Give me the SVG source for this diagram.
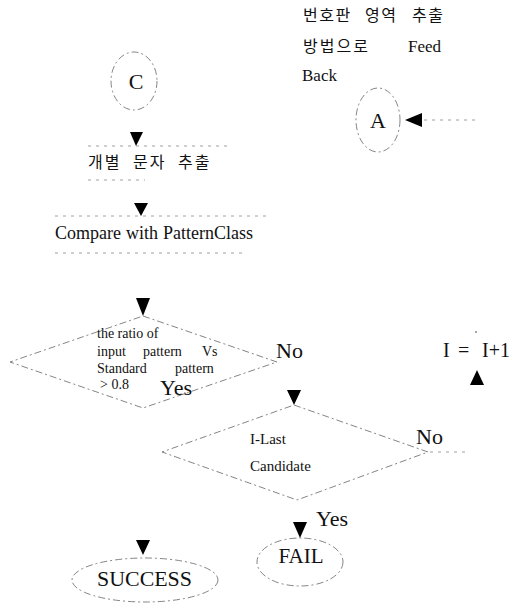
<svg xmlns="http://www.w3.org/2000/svg" width="510" height="603" viewBox="0 0 510 603">
<style>
.t{font-family:"Liberation Serif","Noto Sans CJK KR",serif;fill:#111}
.k{font-family:"Noto Sans CJK KR","Liberation Serif",sans-serif;fill:#111;font-size:16px;letter-spacing:1.5px}
.d{font-size:14px}
.sh{fill:none;stroke:#666;stroke-width:0.8;stroke-dasharray:7 3 2 3}
.dl{fill:none;stroke:#888;stroke-width:0.8;stroke-dasharray:3 5}
.ar{fill:#000}
</style>
<rect width="510" height="603" fill="#fff"/>
<g id="note">
<text class="k" y="21"><tspan x="303">번호판</tspan><tspan x="365">영역</tspan><tspan x="412">추출</tspan></text>
<text class="k" x="303" y="52" style="letter-spacing:2px">방법으로</text>
<text class="t" x="408" y="52" font-size="17">Feed</text>
<text class="t" x="302" y="81" font-size="17">Back</text>
</g>
<g id="nodeC">
<ellipse class="sh" cx="134" cy="81" rx="23" ry="29"/>
<text class="t" x="136" y="89" font-size="22" text-anchor="middle">C</text>
</g>
<g id="nodeA">
<ellipse class="sh" cx="378" cy="120" rx="22" ry="32"/>
<text class="t" x="378" y="128" font-size="22" text-anchor="middle">A</text>
</g>
<g id="extract">
<line class="dl" x1="88" y1="146" x2="228" y2="146"/>
<text class="k" y="168" style="letter-spacing:2px"><tspan x="88">개별</tspan><tspan x="133">문자</tspan><tspan x="178">추출</tspan></text>
<line class="dl" x1="88" y1="180" x2="145" y2="180"/>
</g>
<g id="compare">
<line class="dl" x1="55" y1="216" x2="267" y2="216"/>
<text class="t" y="239" font-size="18"><tspan x="55">Compare</tspan><tspan x="126">with</tspan><tspan x="163">PatternClass</tspan></text>
<line class="dl" x1="55" y1="253" x2="247" y2="253"/>
</g>
<g id="ratio">
<polygon class="sh" points="143,316 277,362 143,408 10,362"/>
<text class="t d" x="97" y="338">the ratio of</text>
<text class="t d" y="356"><tspan x="97">input</tspan><tspan x="143">pattern</tspan><tspan x="202">Vs</tspan></text>
<text class="t d" y="373"><tspan x="97">Standard</tspan><tspan x="175">pattern</tspan></text>
<text class="t d" x="100" y="389">&gt; 0.8</text>
</g>
<g id="last">
<polygon class="sh" points="294,405 428,452 297,500 162,452"/>
<text class="t" x="250" y="444" font-size="15">I-Last</text>
<text class="t" x="250" y="471" font-size="15">Candidate</text>
</g>
<g id="fail">
<ellipse class="sh" cx="300" cy="562" rx="43" ry="24"/>
<text class="t" x="301" y="563" font-size="21" text-anchor="middle">FAIL</text>
</g>
<g id="success">
<ellipse class="sh" cx="145" cy="580" rx="73" ry="22"/>
<text class="t" x="97" y="586" font-size="21" textLength="95" lengthAdjust="spacingAndGlyphs">SUCCESS</text>
</g>
<g id="incr">
<text class="t" y="357" font-size="20"><tspan x="443">I</tspan><tspan x="458">=</tspan><tspan x="482">I+1</tspan></text>
</g>
<g id="connectors">
<polygon class="ar" points="130,132 143,132 136,146"/>
<polygon class="ar" points="134,203 148,203 141,216"/>
<polygon class="ar" points="136,298 150,298 143,316"/>
<polygon class="ar" points="287,390 301,390 294,405"/>
<polygon class="ar" points="293,522 307,522 300,538"/>
<polygon class="ar" points="136,540 150,540 143,555"/>
<polygon class="ar" points="470,385 484,385 477,370"/>
<polygon class="ar" points="405,120 422,113 422,127"/>
<line class="dl" x1="424" y1="120" x2="478" y2="120"/>
<line class="dl" x1="430" y1="452" x2="470" y2="452"/>
<circle cx="476" cy="332" r="0.8" fill="#333"/>
<text class="t" x="276" y="358" font-size="22">No</text>
<text class="t" x="160" y="395" font-size="22">Yes</text>
<text class="t" x="416" y="444" font-size="22">No</text>
<text class="t" x="316" y="526" font-size="22">Yes</text>
</g>
</svg>
